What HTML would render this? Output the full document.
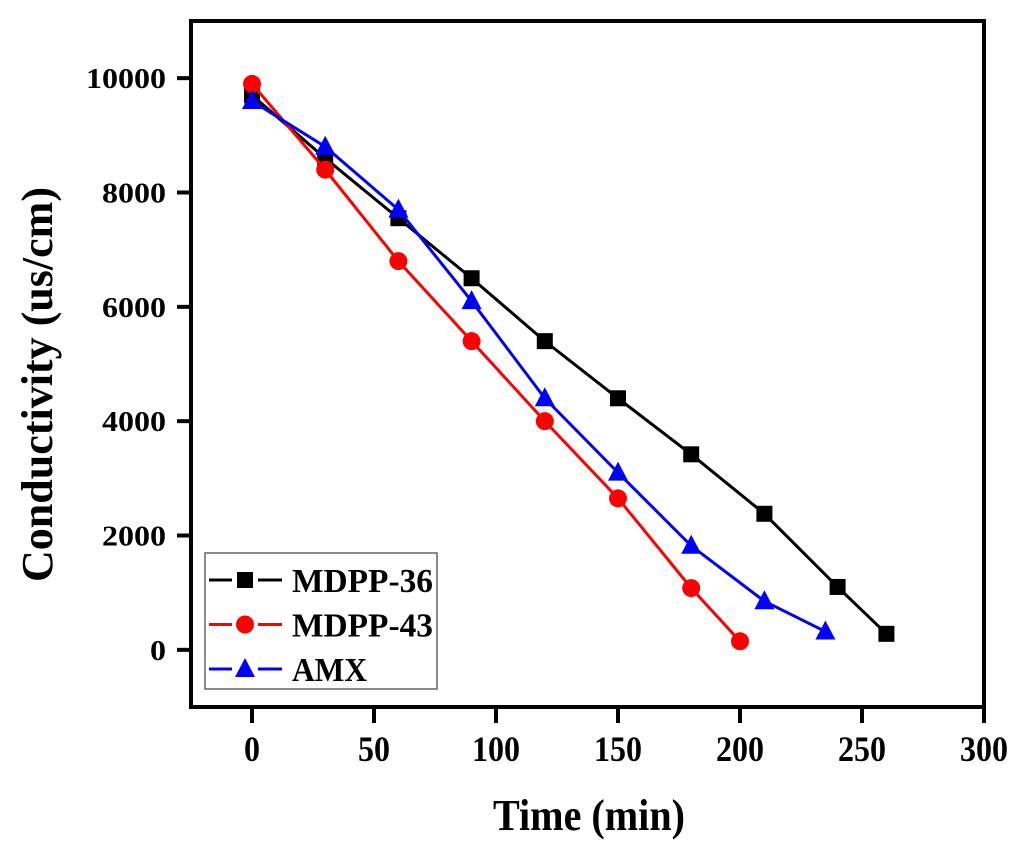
<!DOCTYPE html>
<html><head><meta charset="utf-8"><style>
body{margin:0;background:#fff;}
svg text{font-family:"Liberation Serif",serif;font-weight:bold;}
</style></head><body>
<svg id="chart" width="1024" height="854"></svg>
<script>
const xTicks=[0,50,100,150,200,250,300];
const yTicks=[0,2000,4000,6000,8000,10000];
const x36=[0,30,60,90,120,150,180,210,240,260];
const y36=[9700,8600,7550,6500,5400,4400,3420,2380,1100,280];
const x43=[0,30,60,90,120,150,180,200];
const y43=[9900,8400,6800,5400,4000,2650,1080,150];
const xAmx=[0,30,60,90,120,150,180,210,235];
const yAmx=[9600,8800,7700,6100,4400,3100,1820,850,320];
const seriesNames=["MDPP-36","MDPP-43","AMX"];

const L=191,R=984,T=21,B=707,xmin=-25,xmax=300,ymin=-1000,ymax=11000;
const sx=v=>L+(v-xmin)/(xmax-xmin)*(R-L);
const sy=v=>B-(v-ymin)/(ymax-ymin)*(B-T);
const svg=document.getElementById('chart');
const NS='http://www.w3.org/2000/svg';
function mk(t,a,p){const e=document.createElementNS(NS,t);for(const k in a)e.setAttribute(k,a[k]);(p||svg).appendChild(e);return e;}

const frame=mk('rect',{x:L,y:T,width:R-L,height:B-T,fill:'none',stroke:'#000','stroke-width':4});



xTicks.forEach(v=>{
  const l=mk('line',{x1:sx(v),x2:sx(v),y1:B,y2:B+16,stroke:'#000','stroke-width':4});
  
  
  const s=String(v);
  const t=mk('text',{x:sx(v),y:761,'text-anchor':'middle','font-size':36,textLength:16*s.length,lengthAdjust:'spacingAndGlyphs'});
  t.textContent=s;
  
  
});
yTicks.forEach(v=>{
  const l=mk('line',{x1:L-14,x2:L,y1:sy(v),y2:sy(v),stroke:'#000','stroke-width':4});
  
  
  const s=String(v);
  const t=mk('text',{x:166,y:sy(v)+10,'text-anchor':'end','font-size':29,textLength:16*s.length,lengthAdjust:'spacingAndGlyphs'});
  t.textContent=s;
  
  
});
const xt=mk('text',{x:493,y:830,'font-size':44,textLength:192,lengthAdjust:'spacingAndGlyphs'});
xt.textContent='Time (min)';


const yt=mk('text',{x:0,y:0,'font-size':44,textLength:395,lengthAdjust:'spacingAndGlyphs',transform:`translate(52,582) rotate(-90)`});
yt.textContent='Conductivity (us/cm)';



function marker(type,cx,cy,color,g){
  if(type==='sq') return mk('rect',{x:cx-8,y:cy-8,width:16,height:16,fill:color},g);
  if(type==='ci') return mk('circle',{cx:cx,cy:cy,r:9,fill:color},g);
  return mk('polygon',{points:`${cx},${cy-11} ${cx-10},${cy+8} ${cx+10},${cy+8}`,fill:color},g);
}
const series=[[x36,y36,'#000','sq'],[x43,y43,'#ff0000','ci'],[xAmx,yAmx,'#0000ff','tr']];
series.forEach((s,i)=>{
  const g=mk('g',{});
  
  
  const pts=s[0].map((v,j)=>sx(v)+','+sy(s[1][j])).join(' ');
  const pl=mk('polyline',{points:pts,fill:'none',stroke:s[2],'stroke-width':3},g);
  
  
  s[0].forEach((v,j)=>{
    const m=marker(s[3],sx(v),sy(s[1][j]),s[2],g);
    
    
  });
});

const lg=mk('g',{});


mk('rect',{x:205,y:553,width:232,height:136,fill:'#fff',stroke:'#666','stroke-width':1.5},lg);
const legW=[141,141,75];
series.forEach((s,i)=>{
  const y=580+i*44.5;
  const e=mk('g',{},lg);
  
  
  mk('line',{x1:209,x2:232,y1:y,y2:y,stroke:s[2],'stroke-width':3},e);
  mk('line',{x1:258,x2:282,y1:y,y2:y,stroke:s[2],'stroke-width':3},e);
  marker(s[3],245,y,s[2],e);
  const t=mk('text',{x:292,y:y+12,'font-size':34,textLength:legW[i],lengthAdjust:'spacingAndGlyphs'},e);
  t.textContent=seriesNames[i];
});
</script>
</body></html>
